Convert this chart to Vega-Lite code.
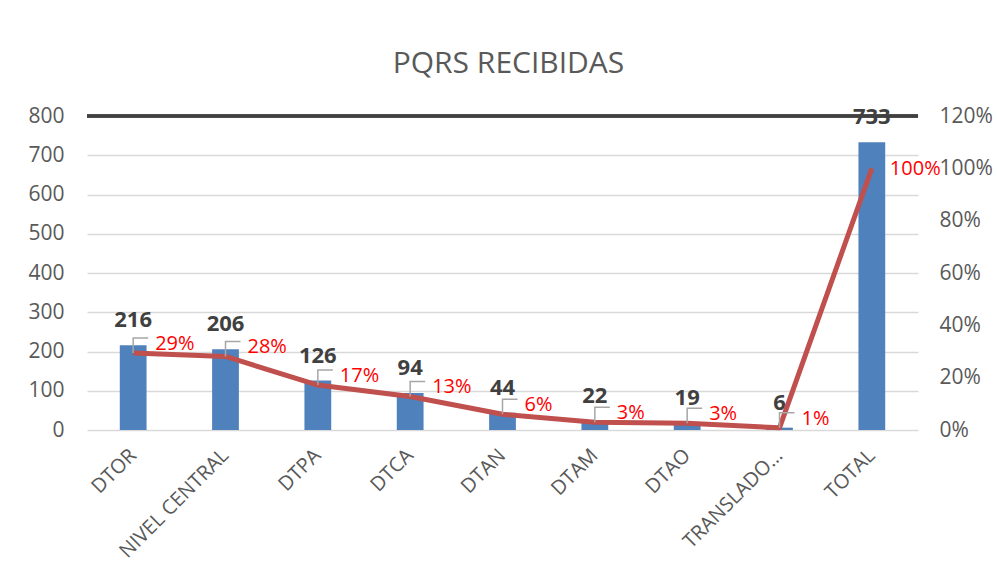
{
  "$schema": "https://vega.github.io/schema/vega-lite/v6.json",
  "autosize": {"type": "none"},
  "width": 831,
  "height": 314,
  "padding": {"left": 87, "top": 116, "right": 79, "bottom": 153},
  "background": "white",
  "config": {
    "view": {"stroke": null},
    "font": "Open Sans",
    "axis": {"labelFont": "Open Sans", "labelColor": "#595959", "ticks": false, "domain": false, "title": null}
  },
  "title": {
    "text": "PQRS RECIBIDAS",
    "font": "Open Sans",
    "fontSize": 30,
    "fontWeight": "normal",
    "color": "#595959",
    "anchor": "middle",
    "dx": 6,
    "offset": 26
  },
  "data": {
    "values": [
      {"cat": "DTOR", "n": 216, "pct": 0.2947},
      {"cat": "NIVEL CENTRAL", "n": 206, "pct": 0.281},
      {"cat": "DTPA", "n": 126, "pct": 0.1719},
      {"cat": "DTCA", "n": 94, "pct": 0.1282},
      {"cat": "DTAN", "n": 44, "pct": 0.06},
      {"cat": "DTAM", "n": 22, "pct": 0.03},
      {"cat": "DTAO", "n": 19, "pct": 0.0259},
      {"cat": "TRANSLADO…", "n": 6, "pct": 0.0082},
      {"cat": "TOTAL", "n": 733, "pct": 1.0}
    ]
  },
  "layer": [
    {
      "encoding": {
        "y": {
          "field": "n",
          "type": "quantitative",
          "scale": {"domain": [0, 800], "nice": false},
          "axis": {"orient": "left", "values": [0, 100, 200, 300, 400, 500, 600, 700, 800], "labelFontSize": 21, "labelPadding": 23, "grid": true, "gridColor": "#D9D9D9", "gridWidth": 1.5}
        }
      },
      "layer": [
        {
          "mark": {"type": "bar", "color": "#4F81BD"},
          "encoding": {
            "x": {
              "field": "cat",
              "type": "nominal",
              "sort": null,
              "scale": {"paddingInner": 0.71, "paddingOuter": 0.355},
              "axis": {"labelAngle": -45, "labelAlign": "right", "labelBaseline": "middle", "labelFontSize": 20, "labelPadding": 22, "grid": false, "labelLimit": 300}
            }
          }
        },
        {
          "mark": {"type": "text", "font": "Open Sans", "fontSize": 22, "fontWeight": "bold", "color": "#404040", "baseline": "alphabetic", "align": "center", "dy": -18},
          "encoding": {
            "x": {"field": "cat", "type": "nominal", "sort": null},
            "text": {"field": "n", "type": "quantitative"}
          }
        },
        {
          "mark": {"type": "rule", "color": "#404040", "strokeWidth": 2.7},
          "encoding": {"y": {"datum": 800}}
        }
      ]
    },
    {
      "encoding": {
        "x": {"field": "cat", "type": "nominal", "sort": null},
        "y": {
          "field": "pct",
          "type": "quantitative",
          "scale": {"domain": [0, 1.2], "nice": false},
          "axis": {"orient": "right", "values": [0, 0.2, 0.4, 0.6, 0.8, 1.0, 1.2], "format": ".0%", "labelFontSize": 21, "labelPadding": 21, "grid": false}
        }
      },
      "layer": [
        {"mark": {"type": "line", "color": "#C0504D", "strokeWidth": 5, "strokeJoin": "round"}},
        {
          "transform": [{"filter": "datum.cat !== 'TOTAL'"}],
          "mark": {"type": "point", "shape": "M0,0V-1H1", "size": 900, "filled": false, "stroke": "#A6A6A6", "strokeWidth": 1.5, "opacity": 1}
        },
        {
          "transform": [{"filter": "datum.cat !== 'TOTAL'"}],
          "mark": {"type": "text", "font": "Open Sans", "fontSize": 20, "color": "#FF0000", "align": "left", "baseline": "alphabetic", "dx": 22, "dy": -3},
          "encoding": {"text": {"field": "pct", "type": "quantitative", "format": ".0%"}}
        },
        {
          "transform": [{"filter": "datum.cat === 'TOTAL'"}],
          "mark": {"type": "text", "font": "Open Sans", "fontSize": 20, "color": "#FF0000", "align": "left", "baseline": "alphabetic", "dx": 18, "dy": 7},
          "encoding": {"text": {"field": "pct", "type": "quantitative", "format": ".0%"}}
        }
      ]
    }
  ],
  "resolve": {"scale": {"y": "independent"}}
}
